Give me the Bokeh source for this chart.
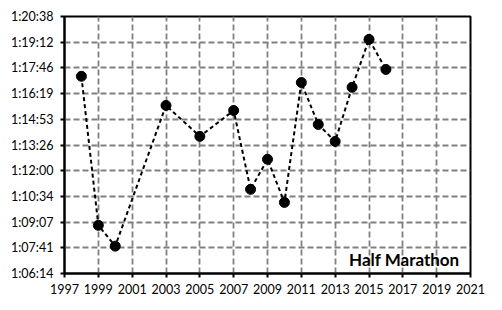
from bokeh.plotting import figure
from bokeh.models import FixedTicker, Range1d, Label
from bokeh.embed import file_html
from bokeh.resources import INLINE

years = [1998, 1999, 2000, 2003, 2005, 2007, 2008, 2009, 2010, 2011, 2012, 2013, 2014, 2015, 2016]
times_s = [4637, 4136, 4066, 4539, 4435, 4522, 4257, 4358, 4213, 4616, 4475, 4418, 4600, 4761, 4660]

x_ticks = [1997, 1999, 2001, 2003, 2005, 2007, 2009, 2011, 2013, 2015, 2017, 2019, 2021]
y_tick_labels = ["1:06:14", "1:07:41", "1:09:07", "1:10:34", "1:12:00", "1:13:26",
                 "1:14:53", "1:16:19", "1:17:46", "1:19:12", "1:20:38"]
title_text = "Half Marathon"


def to_sec(s):
    h, m, sec = (int(v) for v in s.split(":"))
    return h * 3600 + m * 60 + sec


y_ticks = [to_sec(s) for s in y_tick_labels]

p = figure(width=502, height=310, output_backend="svg", toolbar_location=None,
           x_range=Range1d(x_ticks[0], x_ticks[-1]),
           y_range=Range1d(y_ticks[0], y_ticks[-1]),
           min_border_left=64, min_border_right=32, min_border_top=16, min_border_bottom=37)

p.background_fill_color = "white"
p.border_fill_color = "white"
p.outline_line_color = "black"
p.outline_line_width = 2

for ax in (p.xaxis[0], p.yaxis[0]):
    ax.axis_line_color = "black"
    ax.axis_line_width = 2
    ax.major_tick_line_color = "black"
    ax.major_tick_line_width = 2
    ax.major_tick_out = 4
    ax.major_tick_in = 0
    ax.minor_tick_line_color = None
    ax.major_label_text_font = "Lato"
    ax.major_label_text_font_size = "12.5px"
    ax.major_label_text_color = "black"

p.xaxis[0].ticker = FixedTicker(ticks=x_ticks)
p.xaxis[0].major_label_standoff = 6
p.yaxis[0].ticker = FixedTicker(ticks=y_ticks)
p.yaxis[0].major_label_overrides = {t: l for t, l in zip(y_ticks, y_tick_labels)}
p.yaxis[0].major_label_standoff = 7

p.xgrid[0].ticker = FixedTicker(ticks=x_ticks)
p.ygrid[0].ticker = FixedTicker(ticks=y_ticks)
for g in (p.xgrid[0], p.ygrid[0]):
    g.grid_line_color = "#808080"
    g.grid_line_width = 1.8
    g.grid_line_dash = "6 3"

p.line(years, times_s, line_color="black", line_width=2, line_dash="4 3")
p.scatter(years, times_s, marker="circle", size=10, fill_color="black", line_color="black")

p.add_layout(Label(x=2020.35, y=4021, text=title_text, text_align="right",
                   text_baseline="alphabetic", text_font="Lato", text_font_style="bold",
                   text_font_size="17px", text_color="black"))

open("out.html", "w").write(file_html(p, INLINE))
